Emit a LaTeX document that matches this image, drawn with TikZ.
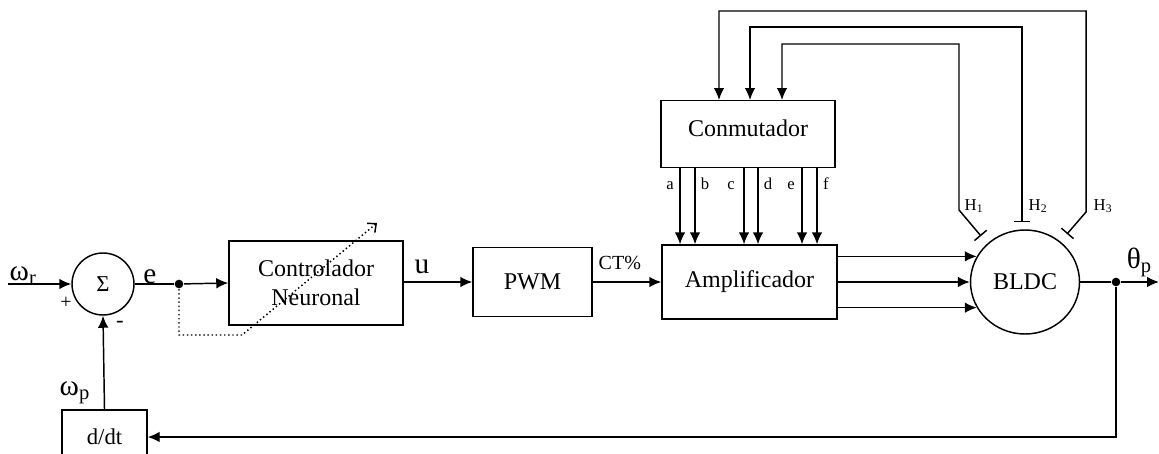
\documentclass[tikz,border=0pt]{standalone}
\usepackage{fontspec}
\setmainfont{Liberation Serif}
\usetikzlibrary{arrows.meta,calc,shapes.geometric}
\begin{document}
\begin{tikzpicture}[x=0.75pt,y=-0.75pt, line width=1.1pt,
  blk/.style={draw, line width=1.1pt, inner sep=0pt, font=\fontsize{18}{21.75}\selectfont, align=center},
  arr/.style={-{Latex[length=9pt,width=8pt]}},
  tee/.style={{Bar[width=12pt]}-{Latex[length=9pt,width=8pt]}},
  lbl/.style={font=\fontsize{22}{25}\selectfont, inner sep=0pt},
  sml/.style={font=\fontsize{12.5}{14}\selectfont, inner sep=0pt},
  mid/.style={font=\fontsize{15}{18}\selectfont, inner sep=0pt},
  dot/.style={circle, fill, inner sep=0pt, minimum size=6.5pt}]
\clip (0,0) rectangle (1159,453);

% blocks
\node[blk, circle, minimum size=46.5pt, font=\fontsize{17}{20}\selectfont] (sum) at (103,284) {Σ};
\node[blk, minimum width=130.5pt, minimum height=63pt] (ctrl) at (316,283) {Controlador\\Neuronal};
\node[blk, minimum width=89.25pt, minimum height=51.75pt] (pwm) at (532.5,282) {PWM};
\node[blk, minimum width=131.25pt, minimum height=55.5pt] (amp) at (749.5,282) {Amplificador};
\node[blk, minimum width=130.5pt, minimum height=50.25pt, anchor=north] (conm) at (748,100) {};
\node[font=\fontsize{18}{21}\selectfont, inner sep=0pt] (conmt) at (748,128) {Conmutador};
\node[blk, ellipse, minimum width=81.75pt, minimum height=78pt] (bldc) at (1025,282) {BLDC};
\node[blk, minimum width=63.75pt, minimum height=40.5pt, font=\fontsize{17}{20}\selectfont] (ddt) at (104.5,437) {d/dt};

% junction points
\node[dot] (j1) at (179,284) {};
\node[dot] (j2) at (1116,282) {};
\coordinate (in) at (8,284);
\coordinate (out) at (1159,282);

% main path
\draw[arr] (in) -- (sum.west);
\draw (sum.east) -- (j1);
\draw[arr] (j1) -- (ctrl.west);
\draw[arr] (ctrl.east |- pwm.west) -- (pwm.west);
\draw[arr] (pwm.east) -- (amp.west);
\draw (bldc.east) -- (j2);
\draw[arr] (j2) -- (out);
\draw[arr] (j2) |- (ddt.east);
\draw[arr] (ddt.north) -- (sum.south);

% adaptation (dotted)
\coordinate (d1) at (242,335);
\coordinate (d2) at (377,223);
\draw[dotted, -{Straight Barb[length=5pt,width=9pt]}] (j1) |- (d1) -- (d2);

% amplifier to motor
\foreach \a in {152,180,208}
  \draw[arr] (amp.east |- bldc.\a) -- (bldc.\a);

% commutator outputs
\foreach \x/\l/\lx in {680/a/670, 695/b/705, 744/c/731, 758/d/768, 802/e/791, 817/f/826}{
  \draw[arr] (conm.south -| \x,0) -- (amp.north -| \x,0);
  \node[sml, anchor=base] at (\lx,189) {\l};
}

% hall sensors
\coordinate (t1) at (981,236);
\coordinate (t2) at (1022,222);
\coordinate (t3) at (1067,234);
\draw[tee] (t1) -- (959,210) |- (782,44) -- (conm.north -| 782,0);
\draw[tee] (t2) -- (1022,27) -| (conm.north -| 750,0);
\draw[tee] (t3) -- (1086,212) |- (719,11) -- (conm.north -| 719,0);
\node[sml, anchor=base] at (974,210) {H\textsubscript{1}};
\node[sml, anchor=base] at (1038,210) {H\textsubscript{2}};
\node[sml, anchor=base] at (1103,210) {H\textsubscript{3}};

% labels
\node[lbl, anchor=base west] at (9,280) {ω\textsubscript{r}};
\node[lbl, anchor=base] at (150,283) {e};
\node[sml, font=\fontsize{15}{16}\selectfont] at (66,303) {+};
\node[sml, font=\fontsize{17}{16}\selectfont] at (120,324) {-};
\node[lbl, anchor=base west] at (59,395) {ω\textsubscript{p}};
\node[lbl, anchor=base west] at (414,273) {u};
\node[mid, anchor=base west] at (598,269) {CT\%};
\node[lbl, anchor=base west] at (1126,268) {θ\textsubscript{p}};
\end{tikzpicture}
\end{document}
